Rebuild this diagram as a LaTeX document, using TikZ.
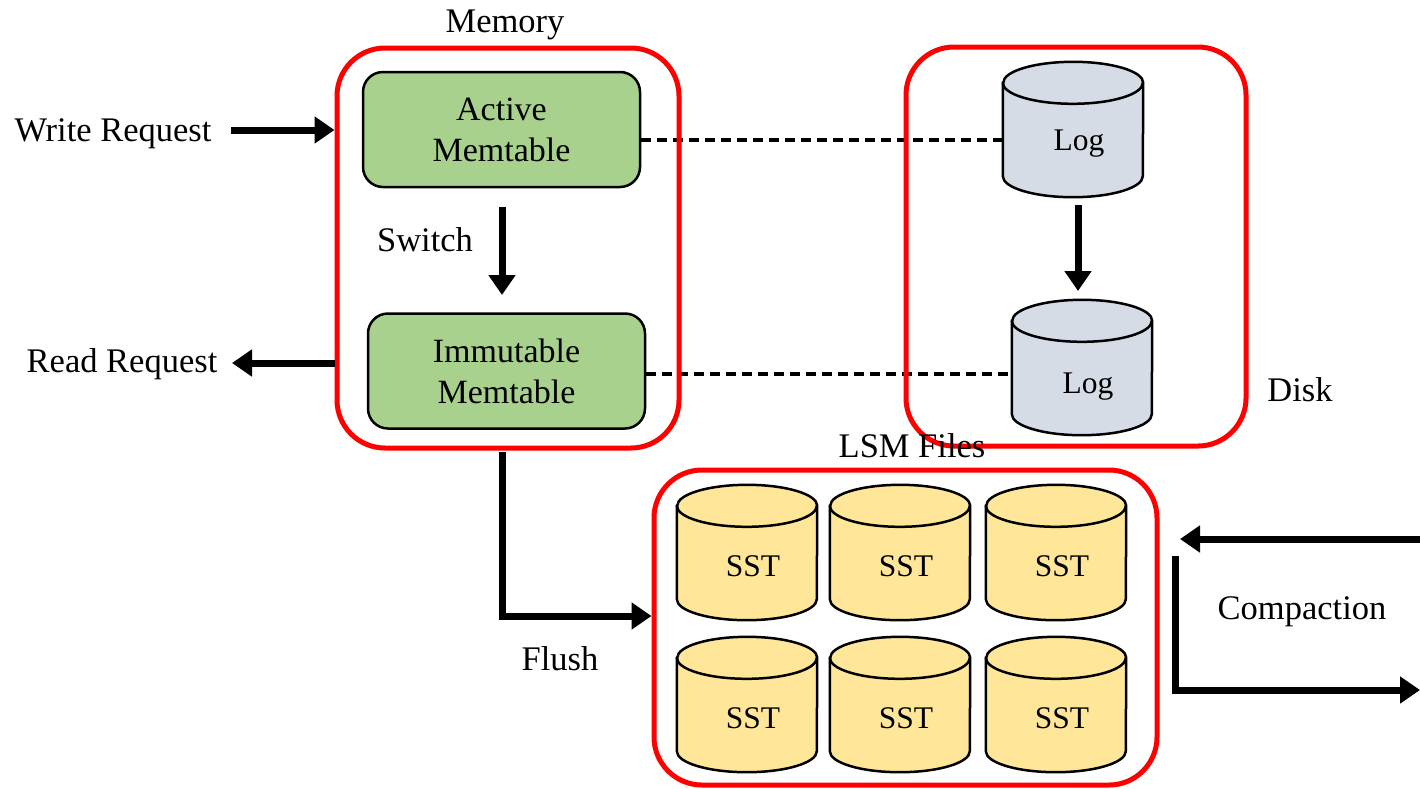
\documentclass[tikz,border=0pt]{standalone}
\usepackage{fontspec}
\setmainfont{Liberation Serif}
\usetikzlibrary{arrows.meta,calc,backgrounds}

\definecolor{memgreen}{HTML}{A9D18E}
\definecolor{loggray}{HTML}{D6DCE5}
\definecolor{sstyellow}{HTML}{FFE699}
\definecolor{zonered}{HTML}{FF0000}

% drum outline around a node that spans the body below the top ellipse
\newcommand\drawdrum[2]{%
  \filldraw[drumline, fill=#2] (#1.north west) -- ($(#1.south west)+(0,-21)$)
    arc(180:0:70 and 21) -- (#1.north east) arc(0:-180:70 and 21) -- cycle;
  \draw[drumline] (#1.north west) arc(180:0:70 and 21);
}

\tikzset{
  zone/.style={draw=zonered, line width=5pt, rounded corners=48pt},
  memtab/.style={draw=black, line width=2.5pt, rounded corners=20pt, fill=memgreen,
    minimum width=277pt, minimum height=115pt, align=center, font=\fontsize{34}{41}\selectfont},
  drumbody/.style={minimum width=140pt, minimum height=114pt, inner sep=0pt},
  drumtxt/.style={font=\fontsize{31.5}{36}\selectfont, inner sep=0pt, text depth=0pt, xshift=6pt},
  drumline/.style={draw=black, line width=2.5pt},
  lbl/.style={font=\fontsize{34.5}{40}\selectfont, inner sep=0pt},
  bigarrow/.style={line width=7pt, -{Triangle[length=20pt,width=26pt]}},
  logdash/.style={line width=3.5pt, dash pattern=on 10pt off 6pt},
}

\begin{document}
\begin{tikzpicture}[x=1pt,y=-1pt]
\useasboundingbox (0,0) rectangle (1420,788);

% memtables
\node[memtab] (active) at (501.5,129.5) {Active\\Memtable};
\node[memtab] (immut) at (506.5,371) {Immutable\\Memtable};

% drums
\node[drumbody, label={[drumtxt]center:Log}] (log1) at (1073,140) {};
\node[drumbody, label={[drumtxt, yshift=-5pt]center:Log}] (log2) at (1082,378) {};
\node[drumbody, label={[drumtxt, yshift=-3pt]center:SST}] (s1) at (747,563) {};
\node[drumbody, label={[drumtxt, yshift=-3pt]center:SST}] (s2) at (900,563) {};
\node[drumbody, label={[drumtxt, yshift=-3pt]center:SST}] (s3) at (1056,563) {};
\node[drumbody, label={[drumtxt, yshift=-3pt]center:SST}] (s4) at (747,715) {};
\node[drumbody, label={[drumtxt, yshift=-3pt]center:SST}] (s5) at (900,715) {};
\node[drumbody, label={[drumtxt, yshift=-3pt]center:SST}] (s6) at (1056,715) {};

\begin{scope}[on background layer]
  \drawdrum{log1}{loggray}
  \drawdrum{log2}{loggray}
  \drawdrum{s1}{sstyellow}
  \drawdrum{s2}{sstyellow}
  \drawdrum{s3}{sstyellow}
  \drawdrum{s4}{sstyellow}
  \drawdrum{s5}{sstyellow}
  \drawdrum{s6}{sstyellow}
  % write-ahead log links
  \draw[logdash] (active.east |- log1.west) -- (log1.west);
  \draw[logdash] (immut.east |- 0,374) -- (log2.west |- 0,374);
\end{scope}

% zones
\node[zone, minimum width=342pt, minimum height=400pt] (mem) at (508,248) {};
\node[zone, minimum width=340pt, minimum height=399pt] (disk) at (1076,246.5) {};
\node[zone, minimum width=503pt, minimum height=315pt] (lsm) at (905.5,627.5) {};

% labels
\node[lbl] (tmem) at (505,25) {Memory};
\node[lbl] (tdisk) at (1300,390) {Disk};
\node[lbl] (tlsm) at (912,446) {LSM Files};
\node[lbl] (twrite) at (113,134) {Write Request};
\node[lbl] (tread) at (122,364) {Read Request};
\node[lbl] (tswitch) at (425,240) {Switch};
\node[lbl] (tflush) at (560,659) {Flush};
\node[lbl] (tcomp) at (1302,612) {Compaction};

% request arrows
\coordinate (wstart) at (231,130);
\coordinate (rend) at (232,363);
\draw[bigarrow] (wstart) -- (mem.west |- wstart);
\draw[bigarrow] (mem.west |- rend) -- (rend);

% switch and log rollover
\draw[bigarrow] (502,207) -- (502,295);
\draw[bigarrow] (1078,205) -- (1078,291);

% flush
\coordinate (fstart) at (502,452);
\coordinate (fbend) at (502,616);
\draw[bigarrow] (fstart) -- (fbend) -- (lsm.west |- fbend);

% compaction loop
\coordinate (cin) at (1420,539);
\coordinate (cintip) at (1180,539);
\coordinate (cout0) at (1175,556);
\coordinate (coutb) at (1175,690);
\coordinate (cout) at (1420,690);
\draw[bigarrow] (cin) -- (cintip);
\draw[bigarrow] (cout0) -- (coutb) -- (cout);
\end{tikzpicture}
\end{document}
